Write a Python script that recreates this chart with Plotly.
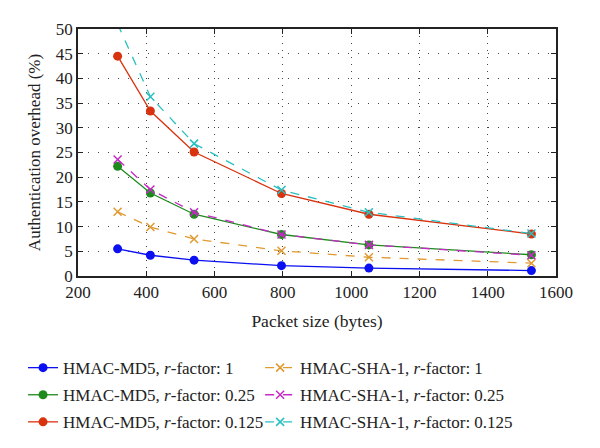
import plotly.graph_objects as go

packet_sizes = [316, 412, 540, 796, 1052, 1528]
md5_r1 = [5.5, 4.2, 3.2, 2.1, 1.6, 1.1]
md5_r025 = [22.2, 16.8, 12.5, 8.4, 6.3, 4.3]
md5_r0125 = [44.5, 33.4, 25.1, 16.7, 12.5, 8.5]
sha_r1 = [13.0, 9.9, 7.5, 5.1, 3.8, 2.6]
sha_r025 = [23.6, 17.5, 12.9, 8.4, 6.3, 4.2]
sha_r0125 = [51.0, 36.3, 26.8, 17.4, 12.9, 8.6]

series = [
    ("HMAC-MD5, <i>r</i>-factor: 1", md5_r1, "#0a10f0", "solid", "circle", "legend"),
    ("HMAC-MD5, <i>r</i>-factor: 0.25", md5_r025, "#1e8a1e", "solid", "circle", "legend"),
    ("HMAC-MD5, <i>r</i>-factor: 0.125", md5_r0125, "#d8320e", "solid", "circle", "legend"),
    ("HMAC-SHA-1, <i>r</i>-factor: 1", sha_r1, "#e09a30", "dash", "x-thin", "legend2"),
    ("HMAC-SHA-1, <i>r</i>-factor: 0.25", sha_r025, "#c828c8", "dash", "x-thin", "legend2"),
    ("HMAC-SHA-1, <i>r</i>-factor: 0.125", sha_r0125, "#28c0c0", "dash", "x-thin", "legend2"),
]

fig = go.Figure()
for i, (name, vals, color, dash, sym, leg) in enumerate(series):
    if sym == "circle":
        marker = dict(symbol="circle", size=9, color=color)
    else:
        marker = dict(symbol="x-thin", size=8, color=color, line=dict(width=1.5, color=color))
    fig.add_trace(go.Scatter(
        x=packet_sizes, y=vals, name=name, mode="lines+markers",
        line=dict(color=color, width=1.3, dash=dash), marker=marker,
        legend=leg, legendgroup=f"g{i}",
    ))

font_family = "Liberation Serif"
legend_common = dict(
    orientation="v", y=-0.30, xanchor="left", yanchor="top",
    font=dict(size=17), tracegroupgap=2, bgcolor="rgba(0,0,0,0)",
)
fig.update_layout(
    width=592, height=440,
    margin=dict(l=70, r=44, t=21, b=172, autoexpand=False),
    paper_bgcolor="white", plot_bgcolor="white",
    font=dict(family=font_family, size=17, color="#222"),
    showlegend=True,
    legend=dict(x=-0.115, **legend_common),
    legend2=dict(x=0.381, **legend_common),
)
fig.update_xaxes(
    range=[200, 1600], dtick=200, tick0=200,
    showline=True, linecolor="#222", linewidth=1.5, mirror="ticks",
    ticks="inside", ticklen=5, tickcolor="#222",
    showgrid=True, gridcolor="#444", gridwidth=1, griddash="1px,6px",
    zeroline=False, automargin=False,
    title=dict(text="Packet size (bytes)", font=dict(size=17.5), standoff=14),
)
fig.update_yaxes(
    range=[0, 50], dtick=5,
    showline=True, linecolor="#222", linewidth=1.5, mirror="ticks",
    ticks="inside", ticklen=5, tickcolor="#222",
    showgrid=True, gridcolor="#444", gridwidth=1, griddash="1px,9px",
    zeroline=False, automargin=False,
    title=dict(text="Authentication overhead (%)", font=dict(size=17), standoff=11),
)

fig.write_html("out.html")
